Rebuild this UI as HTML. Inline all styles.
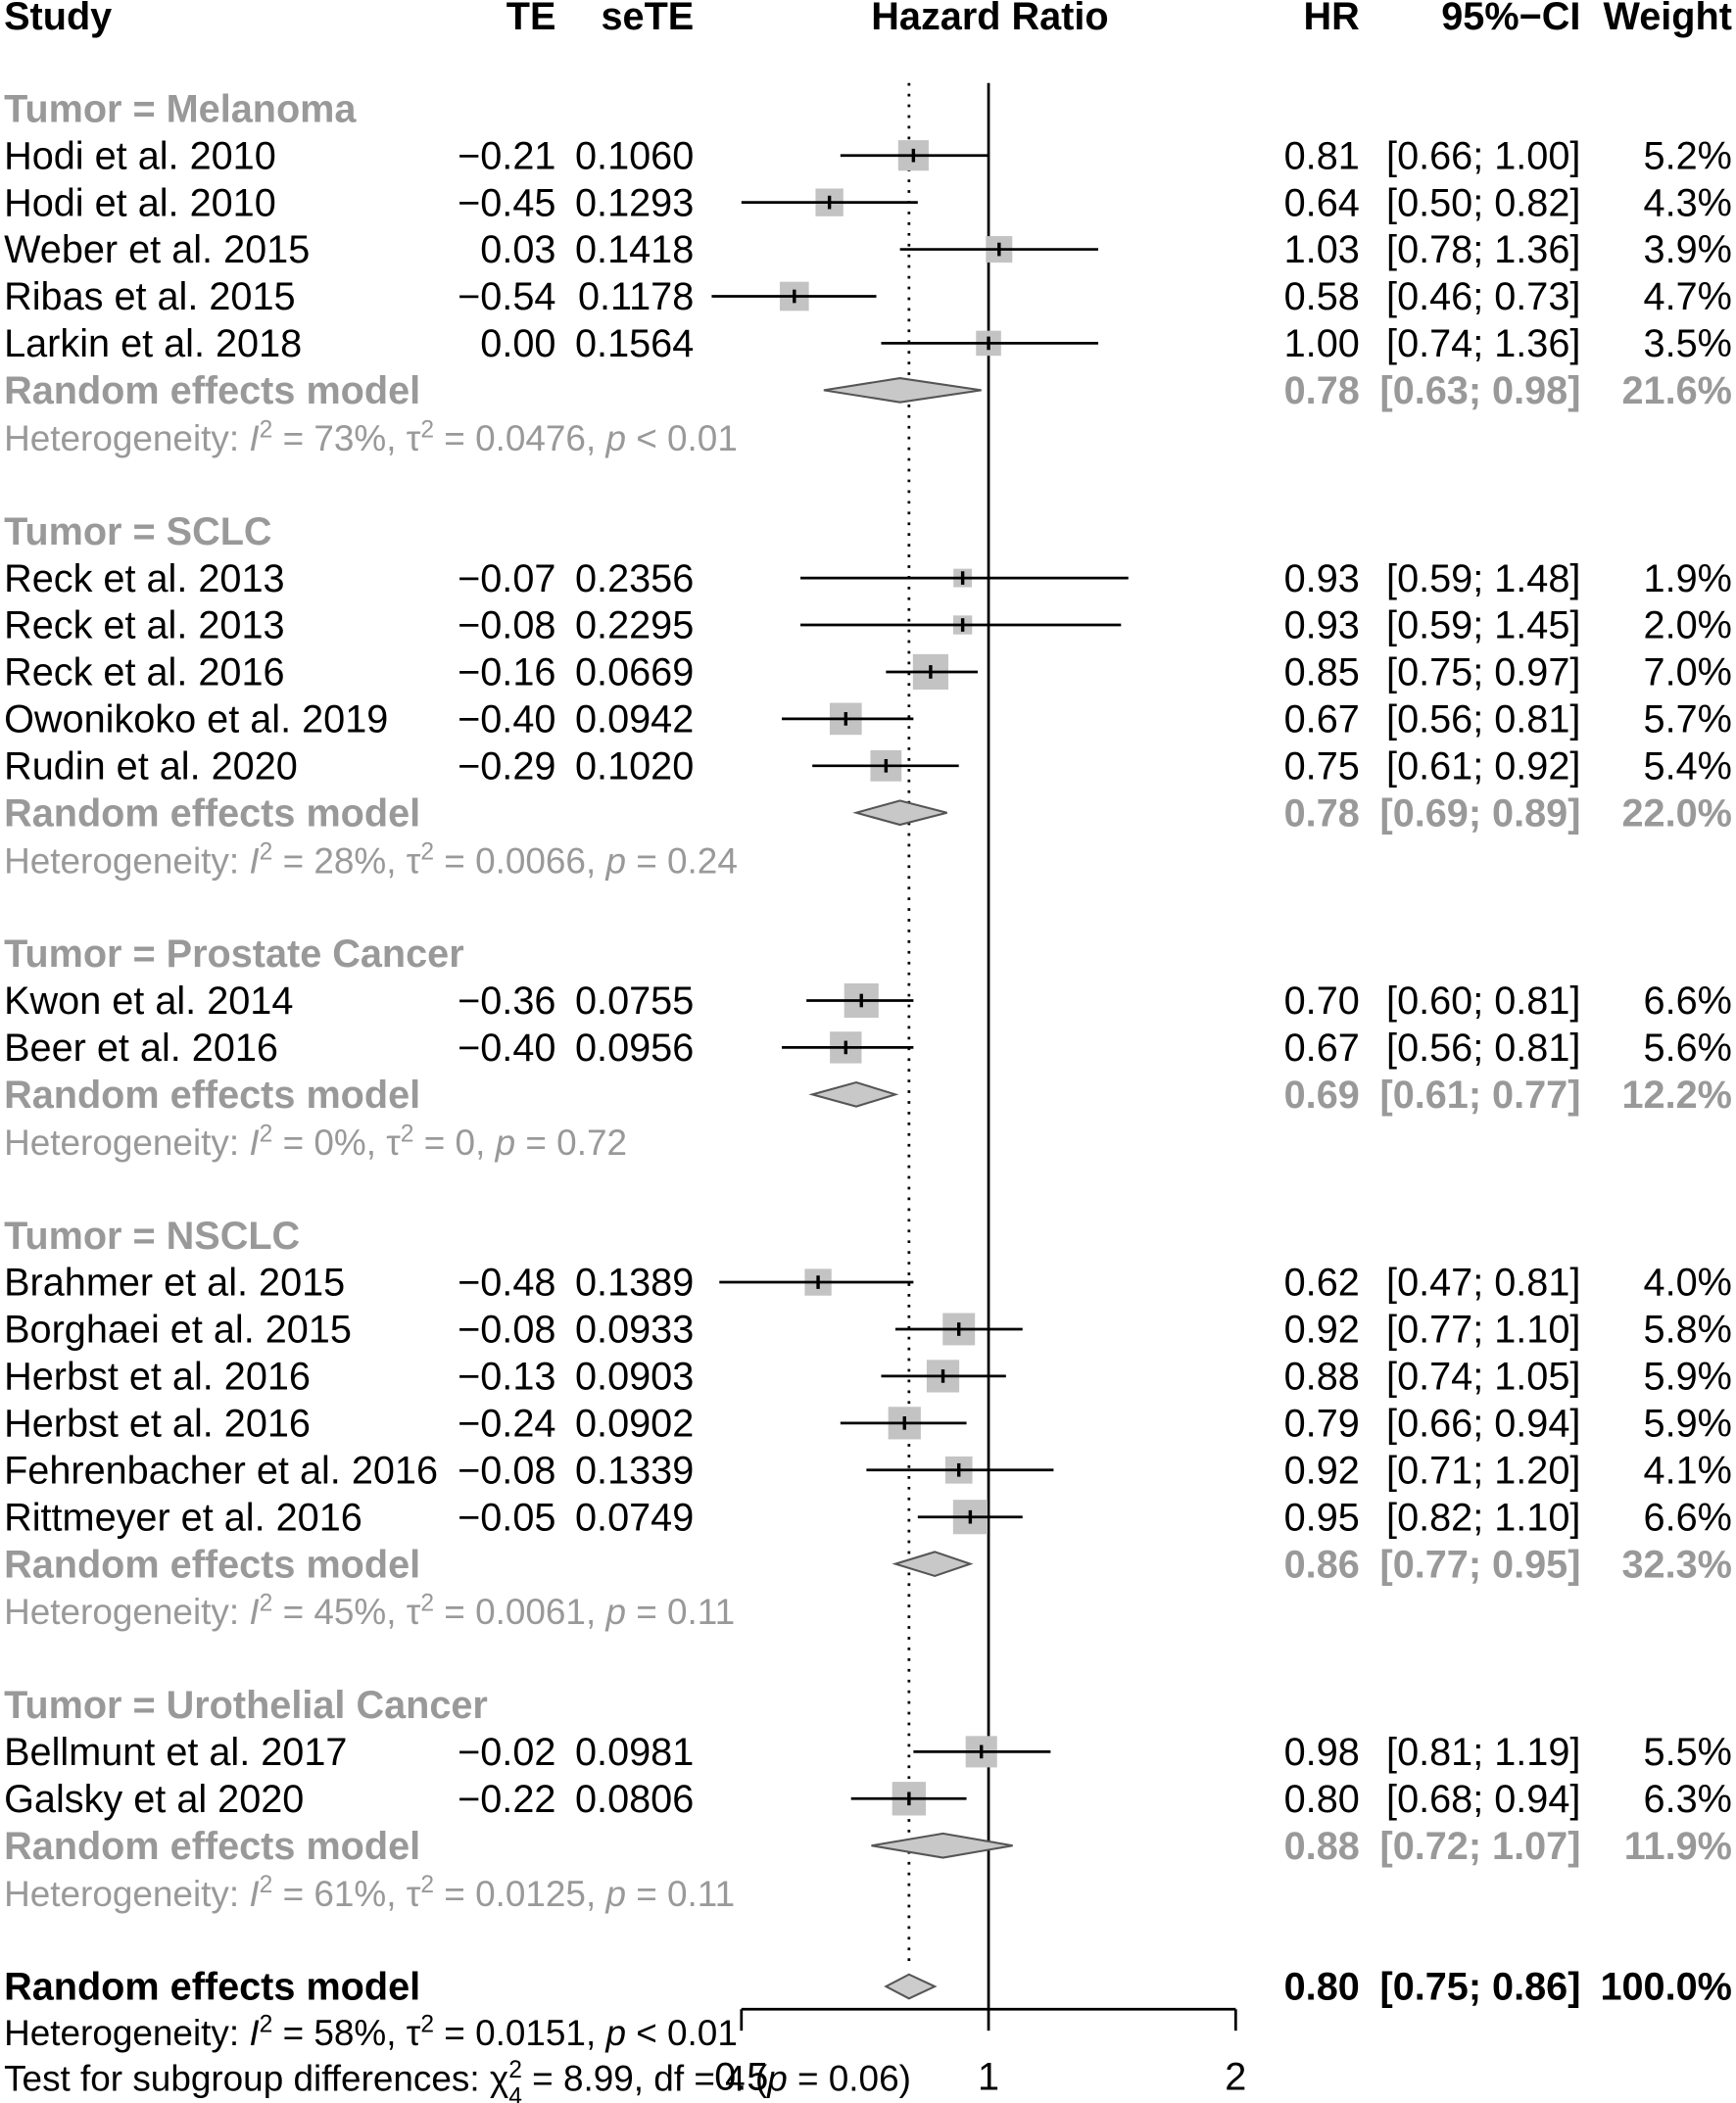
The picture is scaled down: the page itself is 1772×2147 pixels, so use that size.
<!DOCTYPE html>
<html><head><meta charset="utf-8"><style>
html,body{margin:0;padding:0;background:#fff;}
svg{display:block;font-family:"Liberation Sans",Arial,sans-serif;}
</style></head><body>
<svg id="plot" width="1772" height="2147" viewBox="0 0 1296 1570" preserveAspectRatio="none" xmlns="http://www.w3.org/2000/svg"></svg>
<script>
// ---- data ----
const studies = ["Hodi et al. 2010","Hodi et al. 2010","Weber et al. 2015","Ribas et al. 2015","Larkin et al. 2018",
"Reck et al. 2013","Reck et al. 2013","Reck et al. 2016","Owonikoko et al. 2019","Rudin et al. 2020",
"Kwon et al. 2014","Beer et al. 2016",
"Brahmer et al. 2015","Borghaei et al. 2015","Herbst et al. 2016","Herbst et al. 2016","Fehrenbacher et al. 2016","Rittmeyer et al. 2016",
"Bellmunt et al. 2017","Galsky et al 2020"];
const groupOf = [0,0,0,0,0,1,1,1,1,1,2,2,3,3,3,3,3,3,4,4];
const te = ["\u22120.21","\u22120.45","0.03","\u22120.54","0.00","\u22120.07","\u22120.08","\u22120.16","\u22120.40","\u22120.29","\u22120.36","\u22120.40","\u22120.48","\u22120.08","\u22120.13","\u22120.24","\u22120.08","\u22120.05","\u22120.02","\u22120.22"];
const sete = ["0.1060","0.1293","0.1418","0.1178","0.1564","0.2356","0.2295","0.0669","0.0942","0.1020","0.0755","0.0956","0.1389","0.0933","0.0903","0.0902","0.1339","0.0749","0.0981","0.0806"];
const hr = [0.81,0.64,1.03,0.58,1.00,0.93,0.93,0.85,0.67,0.75,0.70,0.67,0.62,0.92,0.88,0.79,0.92,0.95,0.98,0.80];
const lo = [0.66,0.50,0.78,0.46,0.74,0.59,0.59,0.75,0.56,0.61,0.60,0.56,0.47,0.77,0.74,0.66,0.71,0.82,0.81,0.68];
const hi = [1.00,0.82,1.36,0.73,1.36,1.48,1.45,0.97,0.81,0.92,0.81,0.81,0.81,1.10,1.05,0.94,1.20,1.10,1.19,0.94];
const weight = [5.2,4.3,3.9,4.7,3.5,1.9,2.0,7.0,5.7,5.4,6.6,5.6,4.0,5.8,5.9,5.9,4.1,6.6,5.5,6.3];
const groups = ["Tumor = Melanoma","Tumor = SCLC","Tumor = Prostate Cancer","Tumor = NSCLC","Tumor = Urothelial Cancer"];
const gHr = [0.78,0.78,0.69,0.86,0.88];
const gLo = [0.63,0.69,0.61,0.77,0.72];
const gHi = [0.98,0.89,0.77,0.95,1.07];
const gW = ["21.6%","22.0%","12.2%","32.3%","11.9%"];
const gI2 = ["73%","28%","0%","45%","61%"];
const gTau = ["0.0476","0.0066","0","0.0061","0.0125"];
const gP = ["< 0.01","= 0.24","= 0.72","= 0.11","= 0.11"];
const overall = {hr:0.80, lo:0.75, hi:0.86};
const ticks = [0.5,1,2];
const tickLabels = ["0.5","1","2"];

// ---- scales ----
const X1 = 738, PXLOG = 184.5;
const x = v => X1 + PXLOG*Math.log2(v);
const ROWH = 35.05;
const yRow = r => 81 + r*ROWH;
const NS = "http://www.w3.org/2000/svg";
const svg = document.getElementById('plot');
function mk(tag, attrs, parent){const e=document.createElementNS(NS,tag);for(const k in attrs)e.setAttribute(k,attrs[k]);(parent||svg).appendChild(e);return e;}
function txt(s, xx, yy, anchor, opts){
  const e = mk('text',{x:xx,y:yy+10,'font-size':29,'text-anchor':anchor||'start',fill:opts&&opts.fill||'#000','font-weight':opts&&opts.bold?'bold':'normal'});
  e.textContent = s; return e;
}
const f2 = v => v.toFixed(2);

// header
let t;
t=txt("Study",3,12,'start',{bold:1});


t=txt("TE",415,12,'end',{bold:1});


t=txt("seTE",518,12,'end',{bold:1});


t=txt("Hazard Ratio",739,12,'middle',{bold:1});


t=txt("HR",1015,12,'end',{bold:1});


t=txt("95%\u2212CI",1180,12,'end',{bold:1});


t=txt("Weight",1293,12,'end',{bold:1});



// reference lines
let ln = mk('line',{x1:x(overall.hr),x2:x(overall.hr),y1:62,y2:1468,stroke:'#000','stroke-width':2,'stroke-dasharray':'2,6'});


ln = mk('line',{x1:x(1),x2:x(1),y1:62,y2:1500,stroke:'#000','stroke-width':2});



function diamond(h,l,u,yy,name,fill){
  const p = mk('polygon',{points:`${x(l)},${yy} ${x(h)},${yy-9} ${x(u)},${yy} ${x(h)},${yy+9}`,fill:fill,stroke:'#555','stroke-width':1.5});
  
  
}
function hetText(yy,I2,tau,p,name){
  const e = mk('text',{x:3,y:yy+10,'font-size':27,fill:'#999'});
  
  
  e.innerHTML = `Heterogeneity: <tspan font-style="italic">I</tspan><tspan dy="-10" font-size="18">2</tspan><tspan dy="10"> = ${I2}, \u03c4</tspan><tspan dy="-10" font-size="18">2</tspan><tspan dy="10"> = ${tau}, </tspan><tspan font-style="italic">p</tspan> ${p}`;
  return e;
}

let row = 0;
for (let g=0; g<groups.length; g++){
  let yy = yRow(row);
  t = txt(groups[g],3,yy,'start',{bold:1,fill:'#999'});
  
  
  row++;
  for (let i=0;i<studies.length;i++){
    if (groupOf[i]!==g) continue;
    yy = yRow(row);
    t=txt(studies[i],3,yy);  
    t=txt(te[i],415,yy,'end');  
    t=txt(sete[i],518,yy,'end');  
    t=txt(f2(hr[i]),1015,yy,'end');  
    t=txt(`[${f2(lo[i])}; ${f2(hi[i])}]`,1180,yy,'end');  
    t=txt(weight[i].toFixed(1)+'%',1293,yy,'end');  
    const s = 10*Math.sqrt(weight[i]);
    const sq = mk('rect',{x:x(hr[i])-s/2,y:yy-s/2,width:s,height:s,fill:'#c3c3c3'});
    
    
    const ci = mk('line',{x1:x(lo[i]),x2:x(hi[i]),y1:yy,y2:yy,stroke:'#000','stroke-width':2});
    
    
    const tk = mk('line',{x1:x(hr[i]),x2:x(hr[i]),y1:yy-5,y2:yy+5,stroke:'#000','stroke-width':2.5});
    
    
    row++;
  }
  yy = yRow(row);
  t=txt("Random effects model",3,yy,'start',{bold:1,fill:'#999'});  
  t=txt(f2(gHr[g]),1015,yy,'end',{bold:1,fill:'#999'});  
  t=txt(`[${f2(gLo[g])}; ${f2(gHi[g])}]`,1180,yy,'end',{bold:1,fill:'#999'});  
  t=txt(gW[g],1293,yy,'end',{bold:1,fill:'#999'});  
  diamond(gHr[g],gLo[g],gHi[g],yy,'subgroup-diamond','#c8c8c8');
  row++;
  hetText(yRow(row),gI2[g],gTau[g],gP[g],'subgroup-heterogeneity');
  row += 2;
}
// overall
let yy = yRow(row);
t=txt("Random effects model",3,yy,'start',{bold:1});  
t=txt(f2(overall.hr),1015,yy,'end',{bold:1});  
t=txt(`[${f2(overall.lo)}; ${f2(overall.hi)}]`,1180,yy,'end',{bold:1});  
t=txt("100.0%",1293,yy,'end',{bold:1});  
diamond(overall.hr,overall.lo,overall.hi,yy,'overall-diamond','#cccccc');
const ov = mk('text',{x:3,y:yy+34+10,'font-size':27,fill:'#000'});


ov.innerHTML = `Heterogeneity: <tspan font-style="italic">I</tspan><tspan dy="-10" font-size="18">2</tspan><tspan dy="10"> = 58%, \u03c4</tspan><tspan dy="-10" font-size="18">2</tspan><tspan dy="10"> = 0.0151, </tspan><tspan font-style="italic">p</tspan> &lt; 0.01`;
const tst = mk('text',{x:3,y:yy+68+10,'font-size':27,fill:'#000'});


tst.innerHTML = `Test for subgroup differences: \u03c7<tspan dy="-10" font-size="18">2</tspan><tspan dx="-10" dy="20" font-size="18">4</tspan><tspan dy="-10"> = 8.99, df = 4 (</tspan><tspan font-style="italic">p</tspan> = 0.06)`;

// axis
const AY = 1500;
const ax = mk('line',{x1:x(ticks[0]),x2:x(ticks[ticks.length-1]),y1:AY,y2:AY,stroke:'#000','stroke-width':2});


ticks.forEach((v,i)=>{
  const tl = mk('line',{x1:x(v),x2:x(v),y1:AY,y2:AY+16,stroke:'#000','stroke-width':2});
  
  
  const lb = txt(tickLabels[i],x(v),1550,'middle');
  
  
});
</script>
</body></html>
